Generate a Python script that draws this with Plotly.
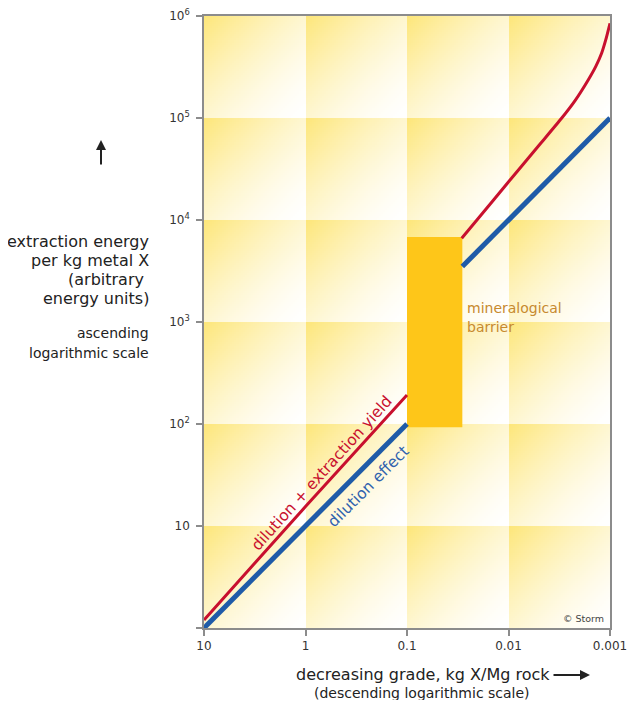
import numpy as np
import plotly.graph_objects as go

# ---------------- data ----------------
grade_blue_low = [10, 1, 0.1]
energy_blue_low = [1, 10, 100]
grade_blue_high = [0.0285, 0.01, 0.001]
energy_blue_high = [3500, 10000, 100000]

grade_red_low = [10, 1, 0.1]
energy_red_low = [1.2, 15.5, 192]
grade_red_high = [0.0289, 0.02, 0.0097, 0.005, 0.003, 0.0022, 0.00164, 0.00138, 0.00121, 0.0011, 0.001]
energy_red_high = [6620, 10300, 24500, 54000, 99300, 149000, 236000, 321000, 431000, 586000, 848000]

barrier_grade = [0.1, 0.0285]
barrier_energy = [93, 6800]

x_tick_vals = [10, 1, 0.1, 0.01, 0.001]
x_tick_text = ["10", "1", "0.1", "0.01", "0.001"]
y_tick_vals = [1, 10, 100, 1e3, 1e4, 1e5, 1e6]
y_tick_text = ["", "10", "10<sup>2</sup>", "10<sup>3</sup>", "10<sup>4</sup>",
               "10<sup>5</sup>", "10<sup>6</sup>"]

FONT = "DejaVu Sans"
RED = "#C8102E"
BLUE = "#1F5BA8"

fig = go.Figure()

# ---------------- background gradient cells (decorative) ----------------
n = 50
xs = (np.arange(4 * n) + 0.5) / n
ys = (np.arange(6 * n) + 0.5) / n
U, Vy = np.meshgrid(xs % 1.0, ys % 1.0)
V = 1.0 - Vy
T = np.clip(1.0 - (U + V) / 2.0, 0, 1) ** 1.5
fig.add_trace(go.Heatmap(x=xs, y=ys, z=T, xaxis="x", yaxis="y",
                         colorscale=[[0, "#FFFFFF"], [1, "#FDE679"]],
                         zmin=0, zmax=1, showscale=False, zsmooth=False,
                         hoverinfo="skip"))

# ---------------- barrier ----------------
fig.add_trace(go.Scatter(
    x=[barrier_grade[0], barrier_grade[1], barrier_grade[1], barrier_grade[0], barrier_grade[0]],
    y=[barrier_energy[0], barrier_energy[0], barrier_energy[1], barrier_energy[1], barrier_energy[0]],
    mode="lines", fill="toself", fillcolor="#FEC619", line=dict(width=0, color="#FEC619"),
    xaxis="x2", yaxis="y2", showlegend=False, hoverinfo="skip"))

# ---------------- lines ----------------
for gx, ey in [(grade_blue_low, energy_blue_low), (grade_blue_high, energy_blue_high)]:
    fig.add_trace(go.Scatter(x=gx, y=ey, mode="lines", line=dict(color=BLUE, width=5),
                             xaxis="x2", yaxis="y2", showlegend=False))
for gx, ey in [(grade_red_low, energy_red_low), (grade_red_high, energy_red_high)]:
    fig.add_trace(go.Scatter(x=gx, y=ey, mode="lines",
                             line=dict(color=RED, width=3, shape="spline", smoothing=0.6),
                             xaxis="x2", yaxis="y2", showlegend=False))

# page body has an 8px margin: the figure is shifted by that amount
OFF = 8
W, H = 637 - 2 * OFF, 708 - 2 * OFF
L, R, T_, B = 204 - OFF, 27 - OFF, 16 - OFF, 80 - OFF
PW, PH = W - L - R, H - T_ - B
PLOT_BOTTOM = 628  # page pixel


def px(xp):
    return (xp - 204) / PW


def py(yp):
    return (PLOT_BOTTOM - yp) / PH


ann = []


def text(s, x, y, size, color="#222", xanchor="center", angle=0):
    ann.append(dict(text=s, x=px(x), y=py(y), xref="paper", yref="paper", showarrow=False,
                    xanchor=xanchor, yanchor="middle", textangle=angle,
                    font=dict(family=FONT, size=size, color=color)))


# y-axis label block
text("extraction energy", 151, 241, 16, xanchor="right")
text("per kg metal X", 151, 260, 16, xanchor="right")
text("(arbitrary ", 151, 279, 16, xanchor="right")
text("energy units)", 151, 298, 16, xanchor="right")
text("ascending", 151, 333, 14, xanchor="right")
text("logarithmic scale", 151, 353, 14, xanchor="right")

# x-axis label
text("decreasing grade, kg X/Mg rock", 423, 674.5, 16)
text("(descending logarithmic scale)", 422, 692.5, 14)

# barrier label
text("mineralogical", 465, 308, 14, color="#C78A2F", xanchor="left")
text("barrier", 465, 327, 14, color="#C78A2F", xanchor="left")

# line labels
text("dilution + extraction yield", 322, 473, 15.5, color=RED, angle=-48)
text("dilution effect", 368, 487, 15.5, color="#2F62AE", angle=-45)

# copyright
text("© Storm", 606, 618, 9.5, color="#444", xanchor="right")

# arrows
ann.append(dict(x=px(101), y=py(140), xref="paper", yref="paper", text="", showarrow=True,
                ax=0, ay=26, arrowhead=2, arrowsize=1, arrowwidth=2, arrowcolor="#222"))
ann.append(dict(x=px(590), y=py(675), xref="paper", yref="paper", text="", showarrow=True,
                ax=-38, ay=0, arrowhead=2, arrowsize=1, arrowwidth=2, arrowcolor="#222"))

axis_line = dict(showline=True, linecolor="#8C8C8C", linewidth=1.5, mirror=True,
                 showgrid=False, zeroline=False, ticks="outside", tickcolor="#8C8C8C",
                 tickwidth=1.5, ticklen=6, automargin=False, ticklabeloverflow="allow",
                 tickfont=dict(family=FONT, size=12, color="#333"))

fig.update_layout(
    width=W, height=H,
    margin=dict(l=L, r=R, t=T_, b=B, autoexpand=False),
    paper_bgcolor="white", plot_bgcolor="white",
    showlegend=False,
    xaxis=dict(range=[0, 4], visible=False, fixedrange=True),
    yaxis=dict(range=[0, 6], visible=False, fixedrange=True),
    xaxis2=dict(type="log", range=[1, -3], overlaying="x", anchor="y2", side="bottom",
                tickvals=x_tick_vals, ticktext=x_tick_text, **axis_line),
    yaxis2=dict(type="log", range=[0, 6], overlaying="y", anchor="x2", side="left",
                tickvals=y_tick_vals, ticktext=y_tick_text, ticklabelstandoff=4, **axis_line),
    annotations=ann,
)

fig.write_html("out.html")
